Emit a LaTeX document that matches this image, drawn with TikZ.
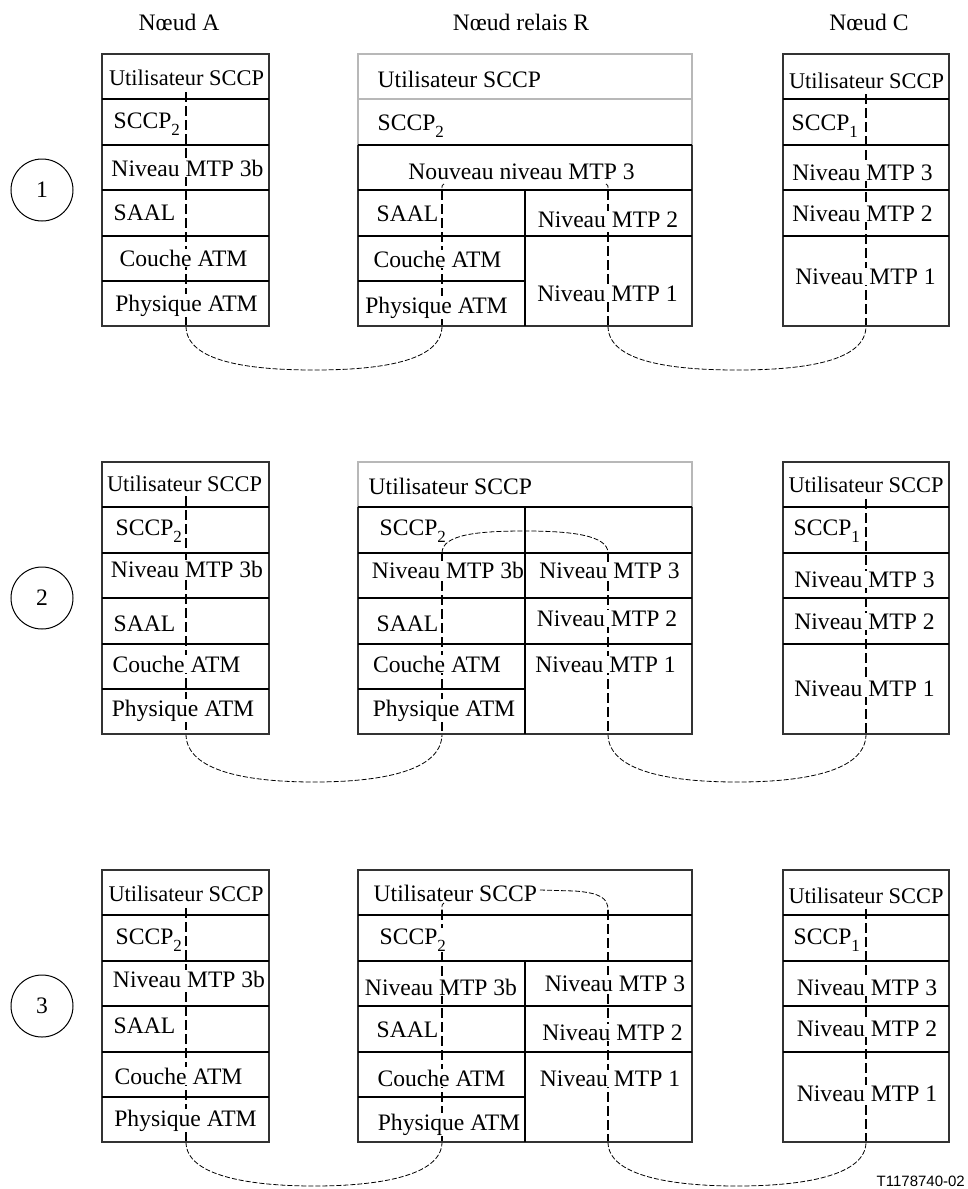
\documentclass[tikz,border=0pt]{standalone}
\usepackage{fontspec}
\setmainfont{Liberation Serif}
\newfontfamily\labelsans{Liberation Sans}
\newcommand{\sccpsub}[1]{SCCP\raisebox{-7pt}{\fontsize{17}{17}\selectfont #1}}
\tikzset{
  txt/.style={inner sep=0.5pt, fill=white, anchor=base, font=\fontsize{23.6}{28}\selectfont},
  txtl/.style={txt, anchor=base west},
  txtsm/.style={txt, font=\fontsize{22.4}{27}\selectfont},
  title/.style={inner sep=0pt, anchor=base, font=\fontsize{23.6}{28}\selectfont},
  outerb/.style={line width=1.2pt, draw=black!80},
  grayb/.style={line width=1.2pt, draw=black!28},
  sepl/.style={line width=2pt, draw=black},
  vdash/.style={line width=1.6pt, dash pattern=on 10pt off 4pt},
  cdash/.style={line width=0.8pt, dash pattern=on 5pt off 2pt},
  numc/.style={circle, draw, line width=1pt, minimum size=62pt, inner sep=0pt, font=\fontsize{23.6}{28}\selectfont},
}
\begin{document}
\begin{tikzpicture}[x=1pt,y=-1pt]
\useasboundingbox (0,0) rectangle (968,1189);
\fill[white] (0,0) rectangle (968,1189);

% ---------- titles ----------
\node[title] (tA) at (179,30) {Nœud A};
\node[title] (tR) at (521,30) {Nœud relais R};
\node[title] (tC) at (869,30) {Nœud C};

\node[numc] (n1) at (42,190) {1};
\node[numc] (n2) at (42,598) {2};
\node[numc] (n3) at (42,1006) {3};

% ---------- coordinates for connectors ----------
% scenario 1
\coordinate (a1t) at (186,92);   \coordinate (a1b) at (186,326);
\coordinate (rl1c) at (444,184); \coordinate (rl1t) at (442,190); \coordinate (rl1b) at (442,326);
\coordinate (rr1c) at (606,184); \coordinate (rr1t) at (608,190); \coordinate (rr1b) at (608,326);
\coordinate (c1t) at (866,94);   \coordinate (c1b) at (866,326);
% scenario 2
\coordinate (a2t) at (186,496);  \coordinate (a2b) at (186,734);
\coordinate (rl2t) at (442,553); \coordinate (rl2b) at (442,734);
\coordinate (rr2t) at (608,553); \coordinate (rr2b) at (608,734);
\coordinate (c2t) at (866,499);  \coordinate (c2b) at (866,734);
% scenario 3
\coordinate (a3t) at (186,908);  \coordinate (a3b) at (186,1142);
\coordinate (rl3c) at (444,903); \coordinate (rl3t) at (442,910); \coordinate (rl3b) at (442,1142);
\coordinate (ru3s) at (540,890); \coordinate (rr3t) at (608,910); \coordinate (rr3b) at (608,1142);
\coordinate (c3t) at (866,909);  \coordinate (c3b) at (866,1142);

% ---------- dashed connectors ----------
\draw[vdash] (a1t) -- (a1b);
\draw[cdash] (rl1c) .. controls (442,185) .. (rl1t);
\draw[vdash] (rl1t) -- (rl1b);
\draw[cdash] (rr1c) .. controls (608,185) .. (rr1t);
\draw[vdash] (rr1t) -- (rr1b);
\draw[vdash] (c1t) -- (c1b);
\draw[cdash] (a1b) .. controls (186,362) and (250,370) .. (314,370) .. controls (378,370) and (442,362) .. (rl1b);
\draw[cdash] (rr1b) .. controls (608,362) and (672,370) .. (737,370) .. controls (802,370) and (866,362) .. (c1b);

\draw[vdash] (a2t) -- (a2b);
\draw[cdash] (rl2t) .. controls (442,534) and (480,531) .. (525,531) .. controls (570,531) and (608,535) .. (rr2t);
\draw[vdash] (rl2t) -- (rl2b);
\draw[vdash] (rr2t) -- (rr2b);
\draw[vdash] (c2t) -- (c2b);
\draw[cdash] (a2b) .. controls (186,772) and (250,782) .. (314,782) .. controls (378,782) and (442,772) .. (rl2b);
\draw[cdash] (rr2b) .. controls (608,772) and (672,782) .. (737,782) .. controls (802,782) and (866,772) .. (c2b);

\draw[vdash] (a3t) -- (a3b);
\draw[cdash] (rl3c) .. controls (442,904) .. (rl3t);
\draw[vdash] (rl3t) -- (rl3b);
\draw[cdash] (ru3s) -- (575,891) .. controls (600,893) and (608,898) .. (rr3t);
\draw[vdash] (rr3t) -- (rr3b);
\draw[vdash] (c3t) -- (c3b);
\draw[cdash] (a3b) .. controls (186,1176) and (250,1186) .. (314,1186) .. controls (378,1186) and (442,1176) .. (rl3b);
\draw[cdash] (rr3b) .. controls (608,1176) and (672,1186) .. (737,1186) .. controls (802,1186) and (866,1176) .. (c3b);

% ---------- texts, scenario 1 ----------
\node[txtsm] (a1u) at (186.5,85) {Utilisateur SCCP};
\node[txtl]  (a1s) at (113,128) {\sccpsub{2}};
\node[txt]   (a1n) at (187.5,176) {Niveau MTP 3b};
\node[txtl]  (a1a) at (113,220) {SAAL};
\node[txt]   (a1c) at (183.5,266) {Couche ATM};
\node[txt]   (a1p) at (186.5,311) {Physique ATM};

\node[txtl]  (r1u) at (377,87) {Utilisateur SCCP};
\node[txtl]  (r1s) at (377,130) {\sccpsub{2}};
\node[txt]   (r1n) at (521.5,179) {Nouveau niveau MTP 3};
\node[txtl]  (r1a) at (376,221) {SAAL};
\node[txt]   (r1c) at (437.5,267) {Couche ATM};
\node[txt]   (r1p) at (436.5,313) {Physique ATM};
\node[txt]   (r1m2) at (608,227) {Niveau MTP 2};
\node[txt]   (r1m1) at (607.5,301) {Niveau MTP 1};

\node[txtsm] (c1u) at (866.5,88) {Utilisateur SCCP};
\node[txtl]  (c1s) at (791,130) {\sccpsub{1}};
\node[txt]   (c1m3) at (862.5,180) {Niveau MTP 3};
\node[txt]   (c1m2) at (862.5,221) {Niveau MTP 2};
\node[txt]   (c1m1) at (865.5,284) {Niveau MTP 1};

% ---------- texts, scenario 2 ----------
\node[txtsm] (a2u) at (184.5,491) {Utilisateur SCCP};
\node[txtl]  (a2s) at (115,535) {\sccpsub{2}};
\node[txt]   (a2n) at (187,577) {Niveau MTP 3b};
\node[txtl]  (a2a) at (113,631) {SAAL};
\node[txt]   (a2c) at (176.5,672) {Couche ATM};
\node[txt]   (a2p) at (183,716) {Physique ATM};

\node[txtl]  (r2u) at (368,494) {Utilisateur SCCP};
\node[txtl]  (r2s) at (379,535) {\sccpsub{2}};
\node[txt]   (r2n) at (448,578) {Niveau MTP 3b};
\node[txtl]  (r2a) at (376,631) {SAAL};
\node[txt]   (r2c) at (437,672) {Couche ATM};
\node[txt]   (r2p) at (444,716) {Physique ATM};
\node[txt]   (r2m3) at (609.5,578) {Niveau MTP 3};
\node[txt]   (r2m2) at (607,626) {Niveau MTP 2};
\node[txt]   (r2m1) at (605.5,672) {Niveau MTP 1};

\node[txtsm] (c2u) at (866,492) {Utilisateur SCCP};
\node[txtl]  (c2s) at (793,535) {\sccpsub{1}};
\node[txt]   (c2m3) at (864.5,587) {Niveau MTP 3};
\node[txt]   (c2m2) at (864.5,629) {Niveau MTP 2};
\node[txt]   (c2m1) at (864.5,696) {Niveau MTP 1};

% ---------- texts, scenario 3 ----------
\node[txtsm] (a3u) at (186,901) {Utilisateur SCCP};
\node[txtl]  (a3s) at (115,944) {\sccpsub{2}};
\node[txt]   (a3n) at (189,987) {Niveau MTP 3b};
\node[txtl]  (a3a) at (113,1033) {SAAL};
\node[txt]   (a3c) at (178.5,1084) {Couche ATM};
\node[txt]   (a3p) at (185.5,1126) {Physique ATM};

\node[txtl]  (r3u) at (373,901) {Utilisateur SCCP};
\node[txtl]  (r3s) at (379,944) {\sccpsub{2}};
\node[txt]   (r3n) at (441,995) {Niveau MTP 3b};
\node[txtl]  (r3a) at (376,1037) {SAAL};
\node[txt]   (r3c) at (441.5,1086) {Couche ATM};
\node[txt]   (r3p) at (449,1130) {Physique ATM};
\node[txt]   (r3m3) at (615,991) {Niveau MTP 3};
\node[txt]   (r3m2) at (612.5,1040) {Niveau MTP 2};
\node[txt]   (r3m1) at (610,1086) {Niveau MTP 1};

\node[txtsm] (c3u) at (866,903) {Utilisateur SCCP};
\node[txtl]  (c3s) at (793,944) {\sccpsub{1}};
\node[txt]   (c3m3) at (867,995) {Niveau MTP 3};
\node[txt]   (c3m2) at (867,1036) {Niveau MTP 2};
\node[txt]   (c3m1) at (867,1101) {Niveau MTP 1};

\node[inner sep=0pt, anchor=base east, font=\labelsans\fontsize{15}{18}\selectfont] (ref) at (965,1186) {T1178740-02};

% ---------- boxes, scenario 1 ----------
\draw[outerb] (102,54) rectangle (269,326);
\foreach \y in {99,145,190,236,281} {\draw[sepl] (102,\y) -- (269,\y);}
\draw[grayb] (358,145) -- (358,54) -- (692,54) -- (692,145);
\draw[grayb] (358,99) -- (692,99);
\draw[outerb] (358,145) -- (358,326) -- (692,326) -- (692,145);
\draw[sepl] (358,145) -- (692,145);
\draw[sepl] (358,190) -- (692,190);
\draw[sepl] (358,236) -- (692,236);
\draw[sepl] (358,281) -- (525,281);
\draw[sepl] (525,190) -- (525,326);
\draw[outerb] (783,54) rectangle (949,326);
\foreach \y in {99,145,190,236} {\draw[sepl] (783,\y) -- (949,\y);}

% ---------- boxes, scenario 2 ----------
\draw[outerb] (102,462) rectangle (269,734);
\foreach \y in {507,553,598,644,689} {\draw[sepl] (102,\y) -- (269,\y);}
\draw[grayb] (358,507) -- (358,462) -- (692,462) -- (692,507);
\draw[outerb] (358,507) -- (358,734) -- (692,734) -- (692,507);
\draw[sepl] (358,507) -- (692,507);
\draw[sepl] (358,553) -- (692,553);
\draw[sepl] (358,598) -- (692,598);
\draw[sepl] (358,644) -- (692,644);
\draw[sepl] (358,689) -- (525,689);
\draw[sepl] (525,507) -- (525,734);
\draw[outerb] (783,462) rectangle (949,734);
\foreach \y in {507,553,598,644} {\draw[sepl] (783,\y) -- (949,\y);}

% ---------- boxes, scenario 3 ----------
\draw[outerb] (102,870) rectangle (269,1142);
\foreach \y in {915,961,1006,1052,1097} {\draw[sepl] (102,\y) -- (269,\y);}
\draw[outerb] (358,870) rectangle (692,1142);
\draw[sepl] (358,915) -- (692,915);
\draw[sepl] (358,961) -- (692,961);
\draw[sepl] (358,1006) -- (692,1006);
\draw[sepl] (358,1052) -- (692,1052);
\draw[sepl] (358,1097) -- (525,1097);
\draw[sepl] (525,961) -- (525,1142);
\draw[outerb] (783,870) rectangle (949,1142);
\foreach \y in {915,961,1006,1052} {\draw[sepl] (783,\y) -- (949,\y);}
\end{tikzpicture}
\end{document}
